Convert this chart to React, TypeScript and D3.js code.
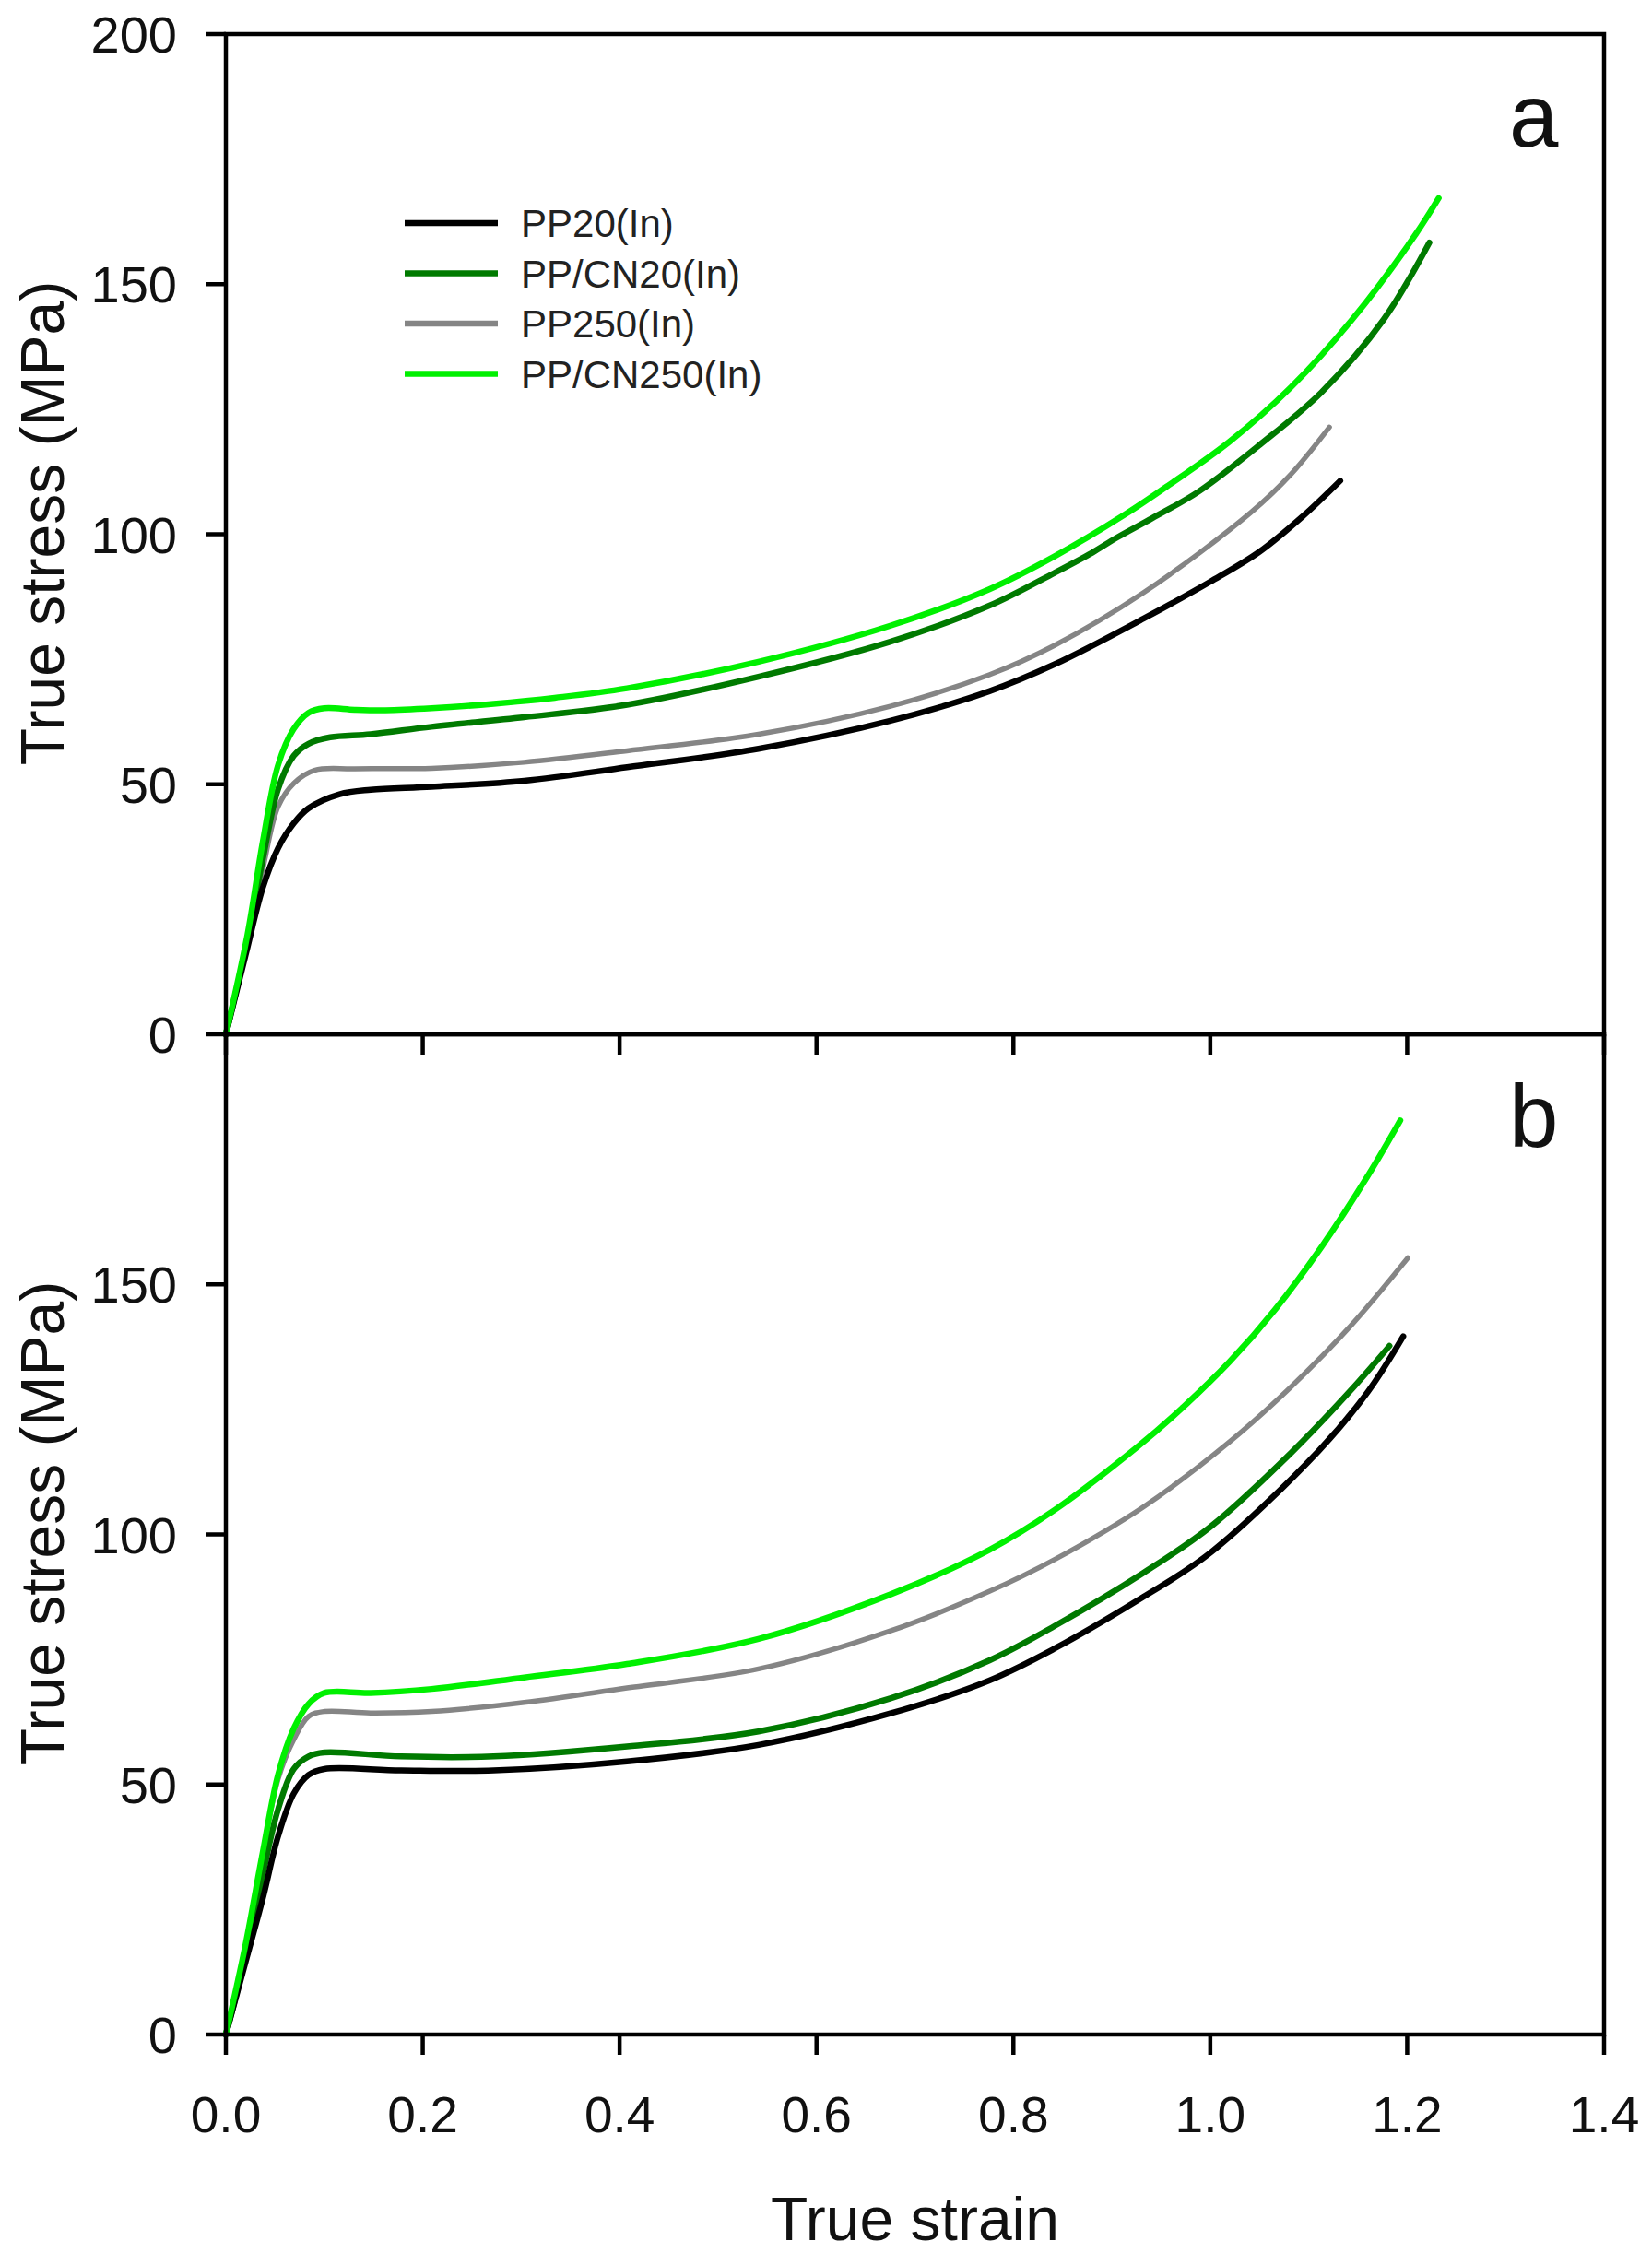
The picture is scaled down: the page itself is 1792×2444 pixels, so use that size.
import React from 'react';
import * as d3 from 'd3';

// true strain / true stress (MPa)
const seriesNames = ['PP20(In)', 'PP/CN20(In)', 'PP250(In)', 'PP/CN250(In)'];
const seriesColors = ['#000000', '#007a00', '#858585', '#00f000'];

const pp20A = [[0,0],[0.02,15.8],[0.0375,29.3],[0.053,37.2],[0.069,42.2],[0.084,45.2],[0.1155,48],[0.147,48.9],[0.209,49.5],[0.303,50.7],[0.4075,53.4],[0.541,57.1],[0.675,62.7],[0.7755,68.6],[0.842,74],[0.932,83.1],[1.0,90.5],[1.05,96.5],[1.094,103.6],[1.132,110.7]];
const ppcn20A = [[0,0],[0.02,17],[0.0375,35],[0.053,49],[0.069,55.7],[0.084,58.1],[0.106,59.4],[0.147,60],[0.209,61.5],[0.303,63.4],[0.4075,65.9],[0.541,71.5],[0.675,78.5],[0.7755,85.7],[0.842,92.3],[0.88,96.3],[0.905,99.3],[0.941,103.2],[0.988,108.5],[1.051,118],[1.113,128.4],[1.176,142.9],[1.2225,158.3]];
const pp250A = [[0,0],[0.02,17],[0.0375,33],[0.053,45.5],[0.069,50.2],[0.09,52.8],[0.131,53.1],[0.209,53.2],[0.303,54.4],[0.4075,56.7],[0.541,60],[0.675,65.6],[0.7755,71.9],[0.842,77.8],[0.932,88.3],[1.041,104.3],[1.082,112],[1.121,121.4]];
const ppcn250A = [[0,0],[0.022,20],[0.0375,38.5],[0.053,53.8],[0.0687,61],[0.084,64.3],[0.1,65.2],[0.131,64.9],[0.162,64.8],[0.209,65.2],[0.272,66.1],[0.334,67.3],[0.4075,69.2],[0.541,74.5],[0.675,81.7],[0.7755,89],[0.842,95.6],[0.913,103.9],[0.957,109.7],[1.0195,118.5],[1.082,129.4],[1.144,142.9],[1.207,159.5],[1.232,167.2]];

const pp20B = [[0,0],[0.02,14.5],[0.0375,27.2],[0.053,39.6],[0.069,48.2],[0.084,51.9],[0.1,53.1],[0.178,52.8],[0.272,52.8],[0.4075,54.6],[0.541,57.9],[0.675,64.2],[0.7755,70.8],[0.842,77.2],[0.932,87.5],[1.0,96.3],[1.11,116.7],[1.16,128.5],[1.196,139.6]];
const ppcn20B = [[0,0],[0.02,15.5],[0.0375,32],[0.053,45],[0.069,53.1],[0.084,55.6],[0.1,56.4],[0.178,55.6],[0.272,55.6],[0.4075,57.6],[0.541,60.6],[0.675,67.2],[0.7755,74.8],[0.842,81.7],[0.932,92.3],[1.0,101.5],[1.082,116.3],[1.144,129.1],[1.182,137.7]];
const pp250B = [[0,0],[0.02,17],[0.0375,36],[0.053,51],[0.069,59],[0.084,63.6],[0.1,64.6],[0.147,64.3],[0.209,64.6],[0.303,66.4],[0.4075,69.3],[0.541,73.1],[0.675,80.7],[0.7755,88.6],[0.842,95],[0.932,105.5],[1.0195,118.5],[1.082,129.5],[1.144,142],[1.2007,155.3]];
const ppcn250B = [[0,0],[0.02,18],[0.0375,36.5],[0.053,51.9],[0.069,61.2],[0.084,66.1],[0.1,68.3],[0.147,68.3],[0.209,69.1],[0.303,71.4],[0.4075,74.1],[0.541,79.1],[0.675,88],[0.7755,96.9],[0.842,104.9],[0.926,117.5],[0.9727,125.5],[1.0195,134.5],[1.066,145],[1.113,157.5],[1.16,171.7],[1.193,182.8]];

const xTicks = [0, 0.2, 0.4, 0.6, 0.8, 1.0, 1.2, 1.4];
const yTicksA = [0, 50, 100, 150, 200];
const yTicksB = [0, 50, 100, 150];

const W = 1792;
const H = 2444;
const left = 245;
const right = 1740;
const top = 37;
const mid = 1122;
const bottom = 2207;
const font = 'Liberation Sans, Arial, Helvetica, sans-serif';

const panels = [
  { label: 'a', y0: top, y1: mid, yTicks: yTicksA, data: [pp20A, ppcn20A, pp250A, ppcn250A], legend: true },
  { label: 'b', y0: mid, y1: bottom, yTicks: yTicksB, data: [pp20B, ppcn20B, pp250B, ppcn250B], legend: false },
];

// draw order: gray, dark green, black, bright green
const drawOrder = [2, 1, 0, 3];

const x = d3.scaleLinear().domain([0, 1.4]).range([left, right]);

const Panel = ({ p }) => {
  const y = d3.scaleLinear().domain([0, 200]).range([p.y1, p.y0]);
  const line = d3.line()
    .x(d => x(d[0]))
    .y(d => y(d[1]))
    .curve(d3.curveCatmullRom.alpha(0.5));
  const tick = 22;
  const cy = (p.y0 + p.y1) / 2 - 12;
  return (
    <g>
      {drawOrder.map(i => (
        <path key={i} d={line(p.data[i])} fill="none" stroke={seriesColors[i]}
          strokeWidth={i === 2 ? 5.5 : 6.5} strokeLinecap="round" strokeLinejoin="round" />
      ))}
      <rect x={left} y={p.y0} width={right - left} height={p.y1 - p.y0} fill="none" stroke="#000" strokeWidth={4.5} />
      {p.yTicks.map(t => (
        <g key={t}>
          <line x1={left - tick} x2={left} y1={y(t)} y2={y(t)} stroke="#000" strokeWidth={4.5} />
          <text x={192} y={y(t)} dy="0.36em" textAnchor="end" fontSize={56} fontFamily={font} fill="#111">{t}</text>
        </g>
      ))}
      {xTicks.map(t => (
        <line key={t} x1={x(t)} x2={x(t)} y1={p.y1} y2={p.y1 + tick} stroke="#000" strokeWidth={4.5} />
      ))}
      <text x={69} y={cy} transform={`rotate(-90, 69, ${cy})`}
        textAnchor="middle" fontSize={66} fontFamily={font} fill="#111">True stress (MPa)</text>
      <text x={1637} y={p.y0 + 122} fontSize={96} fontFamily={font} fill="#111">{p.label}</text>
      {p.legend && seriesNames.map((n, i) => {
        const ly = 242 + i * 54.5;
        return (
          <g key={n}>
            <line x1={439} x2={540} y1={ly} y2={ly} stroke={seriesColors[i]} strokeWidth={6.5} />
            <text x={565} y={ly} dy="0.36em" fontSize={42} fontFamily={font} fill="#222">{n}</text>
          </g>
        );
      })}
    </g>
  );
};

export default function App() {
  return (
    <svg width={W} height={H} viewBox={`0 0 ${W} ${H}`}
      style={{ position: 'absolute', left: 0, top: 0, background: '#fff' }}>
      <rect width={W} height={H} fill="#fff" />
      {panels.map(p => <Panel key={p.label} p={p} />)}
      {xTicks.map(t => (
        <text key={t} x={x(t)} y={2313} textAnchor="middle" fontSize={55} fontFamily={font} fill="#111">
          {t.toFixed(1)}
        </text>
      ))}
      <text x={(left + right) / 2} y={2430} textAnchor="middle" fontSize={66} fontFamily={font} fill="#111">True strain</text>
    </svg>
  );
}
